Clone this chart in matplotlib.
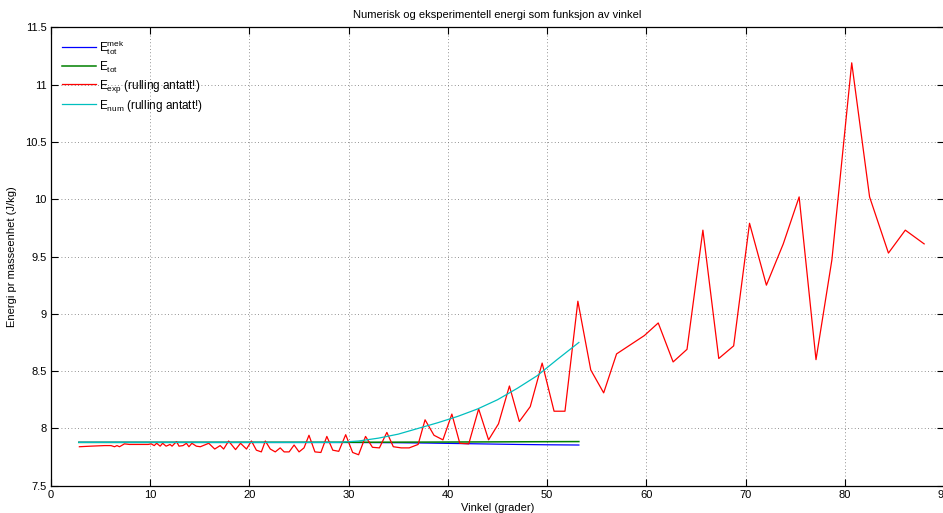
import matplotlib
matplotlib.use("Agg")
import matplotlib.pyplot as plt

plt.rcParams["font.family"] = ["Liberation Sans", "DejaVu Sans"]
plt.rcParams["mathtext.fontset"] = "custom"
plt.rcParams["mathtext.rm"] = "Liberation Sans"
plt.rcParams["mathtext.it"] = "Liberation Sans"

# eksperimentell energi (rullende), lest av figuren
exp_vinkel = [
    2.86, 4.0, 5.4, 6.05, 6.4, 6.65, 6.9, 7.1, 7.4, 7.9, 8.55, 9.2, 9.8, 10.1,
    10.4, 10.65, 11.0, 11.25, 11.6, 12.0, 12.2, 12.65, 12.9, 13.3, 13.65, 13.9,
    14.2, 14.65, 15.05, 15.9, 16.5, 17.05, 17.4, 17.9, 18.6, 19.1, 19.7, 20.2,
    20.7, 21.2, 21.6, 22.1, 22.6, 23.1, 23.5, 24.0, 24.5, 25.0, 25.5, 26.0,
    26.6, 27.2, 27.8, 28.4, 29.0, 29.7, 30.4, 31.0, 31.7, 32.4, 33.1, 33.85,
    34.5, 35.3, 36.1, 37.0, 37.7, 38.6, 39.5, 40.4, 41.2, 42.1, 43.1, 44.1,
    45.1, 46.2, 47.2, 48.3, 49.5, 50.7, 51.8, 53.1, 54.4, 55.7, 57.0, 58.4,
    59.8, 61.2, 62.7, 64.1, 65.7, 67.3, 68.8, 70.4, 72.1, 73.8, 75.4, 77.1,
    78.7, 80.7, 82.5, 84.4, 86.1, 88.0,
]
exp_energi = [
    7.84, 7.845, 7.85, 7.85, 7.84, 7.85, 7.84, 7.85, 7.865, 7.86, 7.86, 7.86, 7.86, 7.865,
    7.85, 7.87, 7.845, 7.87, 7.845, 7.86, 7.845, 7.885, 7.845, 7.85, 7.87, 7.84,
    7.87, 7.845, 7.84, 7.87, 7.82, 7.85, 7.82, 7.89, 7.815, 7.87, 7.82, 7.89,
    7.81, 7.795, 7.89, 7.82, 7.795, 7.83, 7.795, 7.795, 7.855, 7.795, 7.83, 7.94,
    7.795, 7.79, 7.93, 7.81, 7.80, 7.945, 7.79, 7.77, 7.93, 7.835, 7.83, 7.965,
    7.84, 7.83, 7.83, 7.86, 8.075, 7.94, 7.90, 8.125, 7.87, 7.865, 8.17, 7.90,
    8.04, 8.37, 8.06, 8.19, 8.57, 8.15, 8.15, 9.11, 8.51, 8.31, 8.65, 8.73,
    8.81, 8.92, 8.58, 8.69, 9.73, 8.61, 8.72, 9.79, 9.25, 9.61, 10.02, 8.60,
    9.47, 11.19, 10.02, 9.53, 9.73, 9.61,
]

# numerisk energi (rullende)
num_vinkel = [2.8, 29, 31, 33, 35, 37, 39, 41, 43, 45, 47, 49, 51, 53.2]
num_energi = [7.878, 7.878, 7.89, 7.915, 7.95, 8.0, 8.05, 8.105, 8.17, 8.25, 8.35, 8.46, 8.6, 8.75]

# total og mekanisk energi
tot_vinkel = [2.8, 30, 40, 53.2]
tot_energi = [7.878, 7.879, 7.881, 7.885]
mek_vinkel = [2.8, 30, 35, 38, 41, 44, 47, 50, 53.2]
mek_energi = [7.878, 7.877, 7.875, 7.872, 7.868, 7.864, 7.86, 7.857, 7.855]

fig = plt.figure(figsize=(9.43, 5.13), dpi=100)
ax = fig.add_axes([51 / 943, 27.3 / 513, 893 / 943, 458.4 / 513])

ax.plot(mek_vinkel, mek_energi, color="#0000ff", lw=0.9, label=r"$\mathrm{E}_{\mathrm{tot}}^{\mathrm{mek}}$")
ax.plot(tot_vinkel, tot_energi, color="#008000", lw=1.1, label=r"$\mathrm{E}_{\mathrm{tot}}$")
ax.plot(exp_vinkel, exp_energi, color="#ff0000", lw=0.9, label=r"$\mathrm{E}_{\mathrm{exp}}$ (rulling antatt!)")
ax.plot(num_vinkel, num_energi, color="#00bfbf", lw=0.9, label=r"$\mathrm{E}_{\mathrm{num}}$ (rulling antatt!)")

ax.set_xlim(0, 90)
ax.set_ylim(7.5, 11.5)
ax.set_xticks(range(0, 91, 10))
ax.set_yticks([7.5, 8, 8.5, 9, 9.5, 10, 10.5, 11, 11.5])
ax.set_yticklabels(["7.5", "8", "8.5", "9", "9.5", "10", "10.5", "11", "11.5"])
ax.tick_params(direction="in", top=True, right=True, length=5, width=0.8, labelsize=8, pad=3)
ax.grid(True, color="#707070", linestyle=(0, (1, 3)), linewidth=0.6)
for spine in ax.spines.values():
    spine.set_linewidth(0.9)

ax.set_title("Numerisk og eksperimentell energi som funksjon av vinkel", fontsize=8, pad=7)
ax.set_xlabel("Vinkel (grader)", fontsize=8, labelpad=2)
ax.set_ylabel("Energi pr masseenhet (J/kg)", fontsize=8, labelpad=6)

ax.legend(loc="upper left", frameon=False, fontsize=8.5, handlelength=2.9,
          handletextpad=0.3, labelspacing=0.25, borderaxespad=0.5)

fig.savefig("out.png", dpi=100)
